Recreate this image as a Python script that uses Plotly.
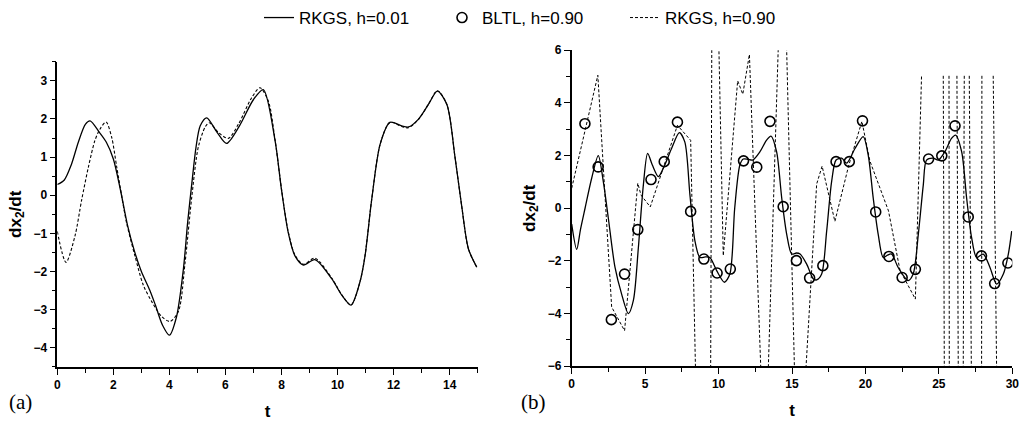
import plotly.graph_objects as go

# ---------------- data: panel (a) ----------------
a_solid_t = [0.0, 0.25, 0.5, 0.75, 1.0, 1.17, 1.5, 1.75, 2.0, 2.25, 2.5, 2.75, 3.0, 3.3, 3.5, 3.75,
             4.0, 4.25, 4.5, 4.65, 4.8, 4.95, 5.1, 5.33, 5.7, 6.04, 6.5, 7.0, 7.35, 7.77, 8.0, 8.24,
             8.48, 8.78, 9.19, 9.79, 10.15, 10.48, 10.8, 10.98, 11.22, 11.52, 11.87, 12.29, 12.53,
             12.88, 13.24, 13.56, 13.9, 14.19, 14.43, 14.67, 14.97]
a_solid_v = [0.28, 0.40, 0.80, 1.39, 1.86, 1.95, 1.65, 1.39, 0.95, 0.15, -0.77, -1.46, -2.0, -2.49, -2.88, -3.40,
             -3.67, -3.20, -1.93, -0.72, 0.31, 1.26, 1.82, 2.03, 1.65, 1.36, 1.82, 2.51, 2.77, 1.43, 0.14, -0.98,
             -1.59, -1.83, -1.69, -2.19, -2.62, -2.88, -2.27, -1.59, -0.10, 1.34, 1.91, 1.82, 1.79,
             1.99, 2.38, 2.73, 2.38, 1.00, -0.29, -1.41, -1.89]

a_dash_t = [0.0, 0.31, 0.63, 0.87, 1.11, 1.34, 1.52, 1.74, 1.94, 2.12, 2.3, 2.47, 2.77, 3.07, 3.37, 3.72,
            4.02, 4.32, 4.56, 4.8, 5.03, 5.27, 5.42, 5.74, 6.1, 6.46, 6.93, 7.23, 7.53, 7.77, 8.0, 8.24,
            8.48, 8.78, 9.19, 9.79, 10.15, 10.48, 10.8, 10.98, 11.22, 11.52, 11.87, 12.29, 12.53,
            12.88, 13.24, 13.56, 13.9, 14.19, 14.43, 14.67, 14.97]
a_dash_v = [-0.95, -1.76, -1.07, -0.12, 0.74, 1.43, 1.73, 1.92, 1.52, 0.74, -0.03, -0.72, -1.59, -2.36, -2.79, -3.18,
            -3.31, -3.05, -1.76, -0.03, 1.26, 1.78, 1.90, 1.65, 1.49, 1.86, 2.55, 2.82, 2.47, 1.45, 0.16, -0.96,
            -1.57, -1.81, -1.65, -2.17, -2.61, -2.88, -2.27, -1.58, -0.10, 1.34, 1.91, 1.80, 1.77,
            1.98, 2.38, 2.74, 2.38, 1.00, -0.29, -1.41, -1.89]

# ---------------- data: panel (b) ----------------
b_solid_t = [0.0, 0.34, 0.6, 0.91, 1.36, 1.81, 2.15, 2.49, 2.95, 3.4, 3.86, 4.2, 4.54, 4.88, 5.17, 5.49,
             5.9, 6.24, 6.8, 7.33, 7.7, 8.05, 8.39, 8.73, 9.1, 9.41, 9.87, 10.4, 10.77, 11.1, 11.45,
             11.68, 12.0, 12.32, 12.82, 13.27, 13.57, 13.95, 14.3, 14.64, 14.98, 15.3, 15.55, 16.0,
             16.46, 16.68, 17.02, 17.36, 17.7, 18.0, 18.38, 18.72, 19.29, 19.85, 20.19, 20.53, 20.87,
             21.21, 21.5, 21.78, 22.23, 22.91, 23.25, 23.6, 23.94, 24.16, 24.62, 24.96, 25.41, 25.86,
             26.14, 26.55, 26.89, 27.23, 27.57, 28.02, 28.48, 28.93, 29.39, 29.73, 29.96]
b_solid_v = [-0.6, -1.56, -0.8, 0.0, 1.14, 2.0, 1.02, -0.36, -2.25, -3.26, -4.0, -3.5, -1.49, 0.89, 2.08, 1.64,
             1.2, 1.52, 2.27, 2.87, 2.52, 0.51, -1.24, -1.87, -1.85, -1.87, -2.37, -2.81, -2.5, 0.01, 1.64,
             1.87, 1.86, 1.83, 2.15, 2.59, 2.74, 2.15, 0.39, -0.99, -1.74, -1.70, -1.74, -2.12,
             -2.69, -2.72, -2.5, -0.87, 1.02, 1.83, 1.9, 1.71, 2.27, 2.72, 2.02, 0.39, -0.99,
             -1.87, -1.78, -1.74, -2.25, -2.75, -2.5, -0.99, 0.89, 1.83, 1.9, 1.83, 2.15, 2.65,
             2.78, 2.15, 0.39, -1.12, -1.87, -1.74, -2.25, -2.88, -2.5, -1.74, -0.87]

b_circ_t = [0.9, 1.8, 2.7, 3.6, 4.5, 5.4, 6.3, 7.2, 8.1, 9.0, 9.9, 10.8, 11.7, 12.6, 13.5, 14.4, 15.3,
            16.2, 17.1, 18.0, 18.9, 19.8, 20.7, 21.6, 22.5, 23.4, 24.3, 25.2, 26.1, 27.0, 27.9, 28.8, 29.7]
b_circ_v = [3.21, 1.57, -4.23, -2.50, -0.81, 1.09, 1.77, 3.27, -0.12, -1.93, -2.46, -2.31, 1.80, 1.56, 3.30,
            0.06, -1.99, -2.65, -2.18, 1.77, 1.77, 3.32, -0.14, -1.83, -2.63, -2.32, 1.87, 1.99, 3.13,
            -0.33, -1.81, -2.86, -2.08]

# RKGS h=0.90 in panel (b): broken line, values beyond the axis range leave the frame
b_dash_t = [0.0, 1.78, 2.72, 3.6, 4.5, 4.72, 5.35, 7.2, 8.1, 8.5, 9.45, 9.55, 9.95, 10.32, 11.3, 11.65,
            12.1, 13.0, 13.28, 14.17, 14.55, 15.25, 15.75, 16.68, 17.05, 17.92, 18.85, 19.76, 20.3,
            21.57, 22.35, 23.4, 23.82, None,
            25.30, 25.37, None, 25.69, 25.71, None, 26.23, 26.32, None, 26.73, 26.66, None,
            27.07, 27.21, None, 27.93, 27.91, None, 28.70, 28.93]
b_dash_v = [0.76, 5.05, -3.75, -4.65, 0.95, 0.5, 0.05, 3.15, 2.58, -8.0, -8.0, 8.0, 8.0, -1.8, 4.84, 4.33,
            5.84, -8.0, -8.0, 8.0, 8.0, -8.0, -8.0, 0.92, 1.6, -0.5, 1.6, 3.3, 1.8,
            -0.1, -2.35, -3.45, 5.03, None,
            5.03, -6.0, None, 5.03, -6.0, None, 5.03, -6.0, None, 5.03, -6.0, None,
            5.03, -6.0, None, 5.03, -6.0, None, 5.03, -6.0]

x_title = "t"
y_title = "dx<sub>2</sub>/dt"
panel_labels = ["(a)", "(b)"]

# ---------------- figure ----------------
W, H = 1029, 422
BLACK = "black"
SOLID_W = 1.3
DASH = "3px,2px"

fig = go.Figure()

fig.add_trace(go.Scatter(x=a_solid_t, y=a_solid_v, mode="lines", name="RKGS, h=0.01",
                         line=dict(color=BLACK, width=SOLID_W, shape="spline", smoothing=0.8),
                         xaxis="x", yaxis="y", legendrank=1))
fig.add_trace(go.Scatter(x=a_dash_t, y=a_dash_v, mode="lines", name="RKGS, h=0.90",
                         line=dict(color=BLACK, width=1.1, dash=DASH, shape="spline", smoothing=0.8),
                         xaxis="x", yaxis="y", showlegend=False))

fig.add_trace(go.Scatter(x=b_dash_t, y=b_dash_v, mode="lines", name="RKGS, h=0.90",
                         line=dict(color=BLACK, width=1.0, dash=DASH), connectgaps=False,
                         xaxis="x2", yaxis="y2", legendrank=3))
fig.add_trace(go.Scatter(x=b_solid_t, y=b_solid_v, mode="lines", name="RKGS, h=0.01",
                         line=dict(color=BLACK, width=SOLID_W, shape="spline", smoothing=0.8),
                         xaxis="x2", yaxis="y2", showlegend=False))
fig.add_trace(go.Scatter(x=b_circ_t, y=b_circ_v, mode="markers", name="BLTL, h=0.90",
                         marker=dict(symbol="circle-open", size=10, color=BLACK, line=dict(width=1.6)),
                         xaxis="x2", yaxis="y2", legendrank=2))

def px_x(p):
    return p / W

def px_y(p):
    return 1 - p / H

tickfont = dict(family="Liberation Sans, Arial, sans-serif", size=12, color=BLACK, weight="bold")
title_font = dict(family="Liberation Sans, Arial, sans-serif", size=17, color=BLACK, weight="bold")
axis_common = dict(showline=True, linecolor=BLACK, linewidth=1.5, ticks="outside", ticklen=6,
                   tickwidth=1.3, tickcolor=BLACK, showgrid=False, zeroline=False, mirror=False,
                   tickfont=tickfont, automargin=False)
xt = dict(text=x_title, font=title_font, standoff=14)
yt = dict(text=y_title, font=title_font, standoff=8)

fig.update_layout(
    width=W, height=H,
    margin=dict(l=0, r=0, t=0, b=0),
    paper_bgcolor="white", plot_bgcolor="white",
    font=dict(family="Liberation Sans, Arial, sans-serif", color=BLACK),
    xaxis=dict(domain=[px_x(57.3), px_x(477.7)], range=[0, 15], dtick=2, tick0=0, anchor="y",
               minor=dict(dtick=1, ticks="outside", ticklen=4, tickwidth=1.1, tickcolor=BLACK),
               title=xt, **axis_common),
    yaxis=dict(domain=[px_y(366.3), px_y(58.3)], range=[-4.5, 3.5], dtick=1, tick0=0, anchor="x",
               minor=dict(dtick=0.5, ticks="outside", ticklen=4, tickwidth=1.1, tickcolor=BLACK),
               title=yt, **axis_common),
    xaxis2=dict(domain=[px_x(571.7), px_x(1012.3)], range=[0, 30], dtick=5, tick0=0, anchor="y2",
                minor=dict(dtick=2.5, ticks="outside", ticklen=4, tickwidth=1.1, tickcolor=BLACK),
                title=xt, **axis_common),
    yaxis2=dict(domain=[px_y(365.7), px_y(46.7)], range=[-6, 6], dtick=2, tick0=0, anchor="x2",
                minor=dict(dtick=1, ticks="outside", ticklen=4, tickwidth=1.1, tickcolor=BLACK),
                title=yt, **axis_common),
    showlegend=True,
    legend=dict(orientation="h", x=px_x(259), xanchor="left", y=px_y(14), yanchor="middle",
                font=dict(family="Liberation Sans", size=17, color=BLACK),
                entrywidth=138, entrywidthmode="pixels", bgcolor="rgba(0,0,0,0)",
                traceorder="normal", itemwidth=30),
)

label_font = dict(family="Liberation Serif, Times New Roman, serif", size=21, color=BLACK)
for lab, xp in zip(panel_labels, [20, 533]):
    fig.add_annotation(xref="paper", yref="paper", showarrow=False, xanchor="center",
                       yanchor="middle", text=lab, x=px_x(xp), y=px_y(402), font=label_font)

fig.write_html("out.html")
